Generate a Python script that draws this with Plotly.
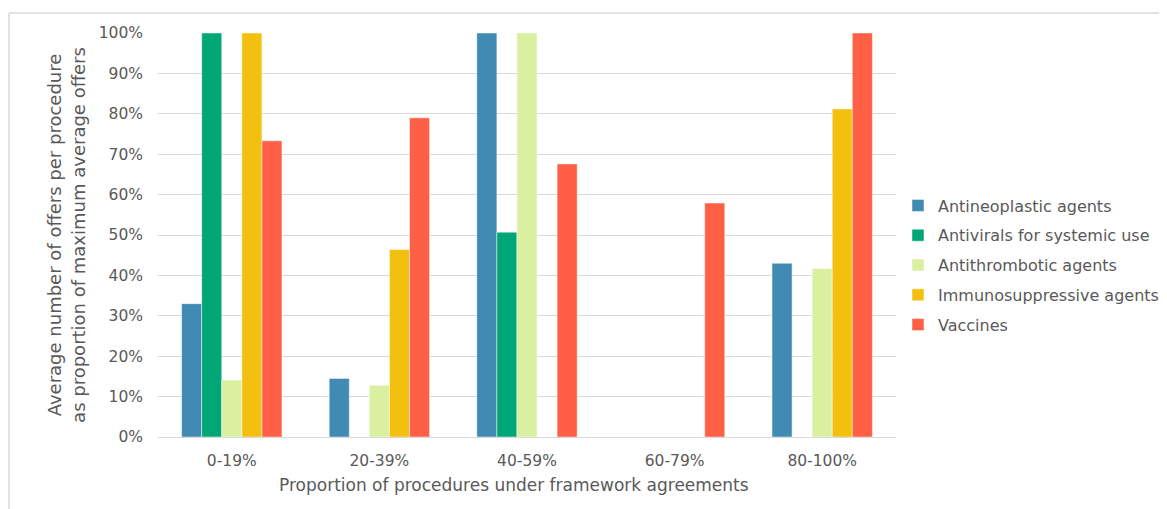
import plotly.graph_objects as go

categories = ["0-19%", "20-39%", "40-59%", "60-79%", "80-100%"]
series_names = [
    "Antineoplastic agents",
    "Antivirals for systemic use",
    "Antithrombotic agents",
    "Immunosuppressive agents",
    "Vaccines",
]
antineoplastic = [0.33, 0.145, 1.00, 0.0, 0.43]
antivirals = [1.00, 0.0, 0.507, 0.0, 0.0]
antithrombotic = [0.141, 0.128, 1.00, 0.0, 0.417]
immunosuppressive = [1.00, 0.464, 0.0, 0.0, 0.812]
vaccines = [0.733, 0.79, 0.676, 0.579, 1.00]
colors = ["#418AB3", "#00A676", "#D8F0A0", "#F4C00F", "#FF6045"]

series_values = [antineoplastic, antivirals, antithrombotic, immunosuppressive, vaccines]

FONT = "DejaVu Sans, Verdana, sans-serif"
GREY = "#595959"

fig = go.Figure()
for name, vals, col in zip(series_names, series_values, colors):
    fig.add_trace(go.Bar(
        x=categories, y=vals, name=name, legendgroup=name,
        marker=dict(color=col, line=dict(color="rgba(255,255,255,0.6)", width=0.8)),
    ))

# page has an 8px body margin; coordinates below are figure coordinates
W, H = 1167, 509
L, R, T, B = 150, 279, 25, 80
pw, ph = W - L - R, H - T - B

def px2paper_x(px):
    return (px - L) / pw

def px2paper_y(py):
    return (H - B - py) / ph

bx, by = px2paper_x(1), px2paper_y(5)

fig.update_layout(
    width=W, height=H,
    margin=dict(l=L, r=R, t=T, b=B, autoexpand=False),
    paper_bgcolor="white", plot_bgcolor="white",
    barmode="group", bargap=0.32, bargroupgap=0,
    font=dict(family=FONT, size=16, color=GREY),
    xaxis=dict(
        showgrid=False, showline=False, ticks="", automargin=False,
        ticklabelstandoff=12,
        tickfont=dict(size=15.5, color=GREY),
    ),
    yaxis=dict(
        title=dict(text="Average number of offers per procedure<br>as proportion of maximum average offers",
                   font=dict(size=18, color=GREY), standoff=8),
        range=[0, 1.0], tickformat=".0%", dtick=0.1,
        showgrid=True, gridcolor="#D9D9D9", gridwidth=1,
        zeroline=True, zerolinecolor="#D9D9D9", zerolinewidth=1,
        showline=False, ticks="", ticklabelstandoff=14, automargin=False,
        tickfont=dict(size=15.5, color=GREY),
    ),
    legend=dict(
        x=px2paper_x(890), xanchor="left",
        y=px2paper_y(257), yanchor="middle",
        font=dict(size=16, color=GREY),
        tracegroupgap=6, bgcolor="rgba(0,0,0,0)",
    ),
    showlegend=True,
    annotations=[
        dict(text="Proportion of procedures under framework agreements",
             xref="paper", yref="paper", x=px2paper_x(506), y=px2paper_y(477),
             xanchor="center", yanchor="middle", showarrow=False,
             font=dict(size=17, color=GREY, family=FONT)),
    ],
    shapes=[
        dict(type="line", xref="paper", yref="paper", x0=bx, x1=2.0, y0=by, y1=by,
             line=dict(color="#D9D9D9", width=1.5)),
        dict(type="line", xref="paper", yref="paper", x0=bx, x1=bx, y0=by, y1=-1.0,
             line=dict(color="#D9D9D9", width=1.5)),
    ],
)

fig.write_html("out.html")
